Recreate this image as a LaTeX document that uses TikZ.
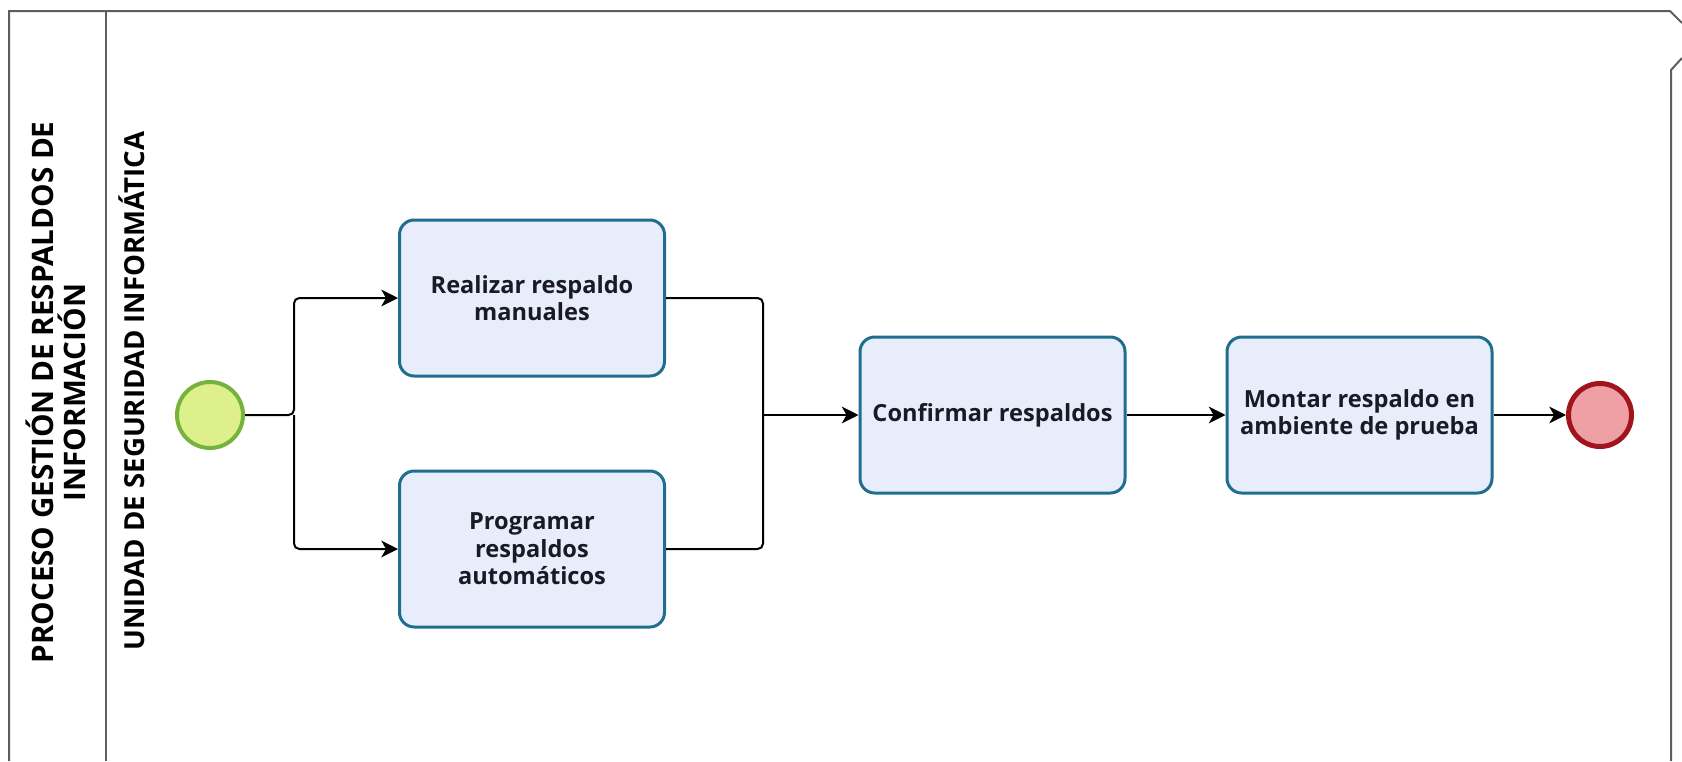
\documentclass[tikz,border=0pt]{standalone}
\usepackage{fontspec}
\setmainfont{Open Sans}
\usetikzlibrary{arrows.meta}

\definecolor{poolline}{HTML}{5E5E5E}
\definecolor{taskfill}{HTML}{E8EDFB}
\definecolor{taskline}{HTML}{1F6E8E}
\definecolor{textdark}{HTML}{1A1A24}
\definecolor{startfill}{HTML}{DDF08C}
\definecolor{startline}{HTML}{76B33A}
\definecolor{endfill}{HTML}{EFA0A4}
\definecolor{endline}{HTML}{A0141C}

\begin{document}
\begin{tikzpicture}[x=0.75pt,y=-0.75pt,
  pool/.style={draw=poolline,line width=1.5pt},
  task/.style={draw=taskline,line width=2.25pt,fill=taskfill,rounded corners=11pt,
    minimum width=198.75pt,minimum height=117pt,align=center,inner sep=0pt,
    text=textdark,font=\fontsize{17.7pt}{20.5pt}\selectfont\bfseries},
  startev/.style={circle,draw=startline,fill=startfill,line width=3pt,minimum size=49.5pt,inner sep=0pt},
  endev/.style={circle,draw=endline,fill=endfill,line width=3.75pt,minimum size=47.25pt,inner sep=0pt},
  link/.style={line width=1.5pt,rounded corners=4pt},
  flow/.style={link,-{Stealth[length=12.5pt,width=12.5pt,inset=3.5pt]}},
  headtext/.style={rotate=90,align=center,text=black,inner sep=0pt}]

\useasboundingbox (0,0) rectangle (1682,761);
\fill[white] (0,0) rectangle (1682,761);

% pool frame and lane divider
\draw[pool] (9,761) -- (9,11) -- (1670,11) -- (1682,23);
\draw[pool] (1682,58) -- (1671,70) -- (1671,761);
\draw[pool] (106,11) -- (106,761);

% pool and lane headers
\node[headtext,font=\fontsize{22.2pt}{24pt}\selectfont\bfseries] (pooltitle) at (56,392.5)
  {PROCESO GESTIÓN DE RESPALDOS DE\\INFORMACIÓN};
\node[headtext,font=\fontsize{20.7pt}{24pt}\selectfont\bfseries] (lanetitle) at (131.5,391)
  {UNIDAD DE SEGURIDAD INFORMÁTICA};

% events and tasks
\node[startev] (start) at (210,415) {};
\node[task] (t1) at (532,298) {Realizar respaldo\\manuales};
\node[task] (t2) at (532,549) {Programar\\respaldos\\automáticos};
\node[task] (t3) at (992.5,415) {Confirmar respaldos};
\node[task] (t4) at (1359.5,415) {Montar respaldo en\\ambiente de prueba};
\node[endev] (end) at (1600,415) {};

\coordinate (split) at (294,415);
\coordinate (merge) at (763,415);

% sequence flows
\draw[flow] (start.east) -- (split) |- (t1.west);
\draw[flow] (split) |- (t2.west);
\draw[link] (t1.east) -| (merge);
\draw[link] (t2.east) -| (merge);
\draw[flow] (merge) -- (t3.west);
\draw[flow] (t3.east) -- (t4.west);
\draw[flow] (t4.east) -- (end.west);

\end{tikzpicture}
\end{document}
